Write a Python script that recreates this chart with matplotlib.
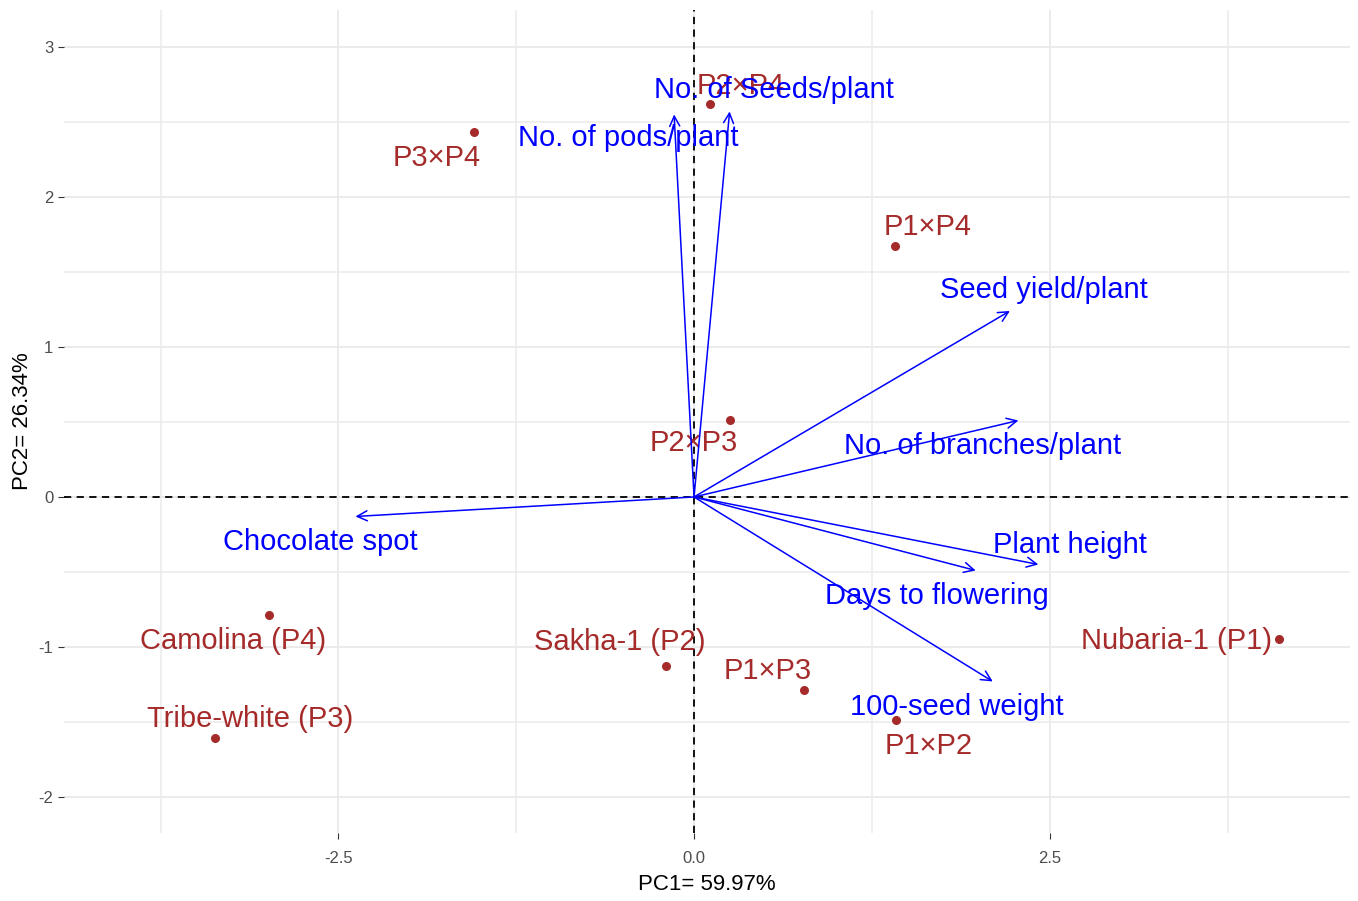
import numpy as np
import matplotlib.pyplot as plt
from matplotlib.ticker import MultipleLocator

plt.rcParams['font.family'] = ['Liberation Sans', 'DejaVu Sans']

# genotype scores
geno = ['P2×P4', 'P3×P4', 'P1×P4', 'P2×P3', 'Camolina (P4)', 'Sakha-1 (P2)',
        'P1×P3', 'Tribe-white (P3)', 'P1×P2', 'Nubaria-1 (P1)']
pc1 = [0.11, -1.55, 1.41, 0.25, -2.99, -0.20, 0.77, -3.37, 1.42, 4.11]
pc2 = [2.62, 2.43, 1.67, 0.51, -0.79, -1.13, -1.29, -1.61, -1.49, -0.95]

# trait loadings (arrow tips)
traits = ['No. of Seeds/plant', 'No. of pods/plant', 'Seed yield/plant',
          'No. of branches/plant', 'Plant height', 'Days to flowering',
          '100-seed weight', 'Chocolate spot']
load1 = [0.25, -0.14, 2.22, 2.28, 2.42, 1.98, 2.10, -2.38]
load2 = [2.57, 2.55, 1.24, 0.51, -0.45, -0.49, -1.23, -0.13]

# label offsets (repel-like), in data units
geno_off = [(0.22, 0.12), (-0.26, -0.17), (0.23, 0.13), (-0.25, -0.15), (-0.25, -0.17),
            (-0.32, 0.16), (-0.25, 0.13), (0.25, 0.13), (0.23, -0.17), (-0.72, -0.01)]
trait_off = [(0.31, 0.14), (-0.32, -0.16), (0.24, 0.14), (-0.25, -0.17), (0.22, 0.13),
             (-0.27, -0.17), (-0.25, -0.17), (-0.25, -0.17)]

fig = plt.figure(figsize=(13.58, 9.01), dpi=100)
ax = fig.add_axes([0.047, 0.0755, 0.947, 0.9135])

ax.set_xlim(-4.43, 4.61)
ax.set_ylim(-2.24, 3.247)
ax.xaxis.set_major_locator(MultipleLocator(2.5))
ax.xaxis.set_minor_locator(MultipleLocator(1.25))
ax.yaxis.set_major_locator(MultipleLocator(1))
ax.yaxis.set_minor_locator(MultipleLocator(0.5))
ax.grid(which='major', color='#EBEBEB', lw=1.4, zorder=0)
ax.grid(which='minor', color='#EBEBEB', lw=1.1, zorder=0)
ax.set_axisbelow(True)
for s in ax.spines.values():
    s.set_visible(False)
ax.tick_params(which='major', length=4, color='#333333', labelsize=12, labelcolor='#4D4D4D')
ax.tick_params(axis='x', which='major', pad=9)
ax.tick_params(which='minor', length=0)
ax.xaxis.set_major_formatter(plt.FuncFormatter(lambda v, p: f'{v:.1f}'))
ax.yaxis.set_major_formatter(plt.FuncFormatter(lambda v, p: f'{v:g}'))

ax.axhline(0, color='black', ls=(0, (4, 3)), lw=1.3, zorder=1)
ax.axvline(0, color='black', ls=(0, (4, 3)), lw=1.3, zorder=1)

ax.scatter(pc1, pc2, s=30, color='#A52A2A', zorder=3)
for name, x, y, (dx, dy) in zip(geno, pc1, pc2, geno_off):
    ax.text(x + dx, y + dy, name, color='#A52A2A', fontsize=21,
            ha='center', va='center', zorder=4)

for name, x, y, (dx, dy) in zip(traits, load1, load2, trait_off):
    ax.annotate('', xy=(x, y), xytext=(0, 0),
                arrowprops=dict(arrowstyle='->', color='blue', lw=1.1,
                                mutation_scale=18, shrinkA=0, shrinkB=0), zorder=5)
    ax.text(x + dx, y + dy, name, color='blue', fontsize=21,
            ha='center', va='center', zorder=6)

ax.set_xlabel('PC1= 59.97%', fontsize=16, labelpad=6)
ax.set_ylabel('PC2= 26.34%', fontsize=16, labelpad=4)

fig.savefig('out.png', dpi=100)
